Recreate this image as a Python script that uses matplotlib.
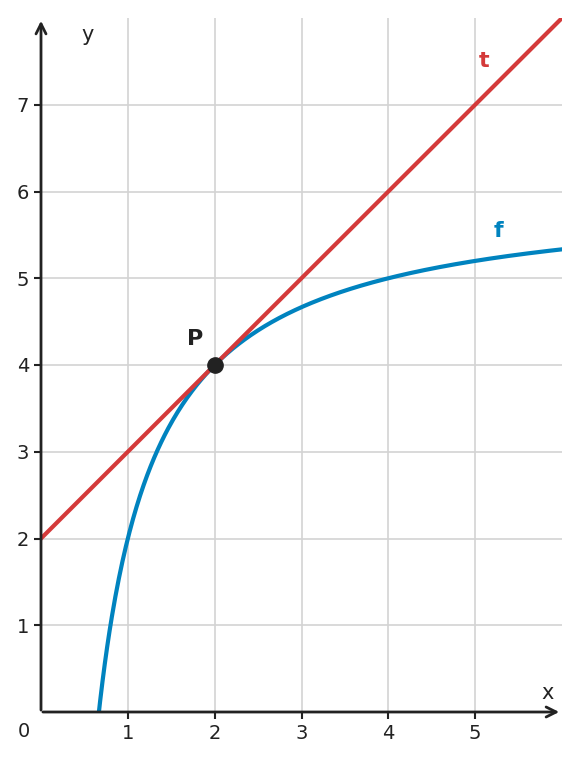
import numpy as np
import matplotlib.pyplot as plt

# f(x) = a - b/x, tangent t at P
f_a, f_b = 6, 4
t_slope, t_icept = 1, 2
p_x, p_y = 2, 4
xticks = [1, 2, 3, 4, 5]
yticks = [1, 2, 3, 4, 5, 6, 7]

fig = plt.figure(figsize=(5.8, 7.61), dpi=100)
ax = fig.add_axes([41/580, 49/761, 521/580, 694/761])
ax.set_xlim(0, 6)
ax.set_ylim(0, 8)

for v in xticks:
    ax.axvline(v, color='#d3d3d3', lw=1.2, zorder=0)
for v in yticks:
    ax.axhline(v, color='#d3d3d3', lw=1.2, zorder=0)

xs = np.linspace(0.6, 6, 400)
ax.plot(xs, f_a - f_b / xs, color='#0083bf', lw=3, clip_on=True)
xt = np.array([0, 6])
ax.plot(xt, t_slope * xt + t_icept, color='#d43a3a', lw=3)
ax.plot(p_x, p_y, 'o', color='#222222', ms=11, zorder=5)

ax.text(5.1, 7.5, 't', color='#d43a3a', fontsize=16, fontweight='bold', ha='center', va='center')
ax.text(5.27, 5.55, 'f', color='#0083bf', fontsize=16, fontweight='bold', ha='center', va='center')
ax.text(1.78, 4.3, 'P', color='#222222', fontsize=16, fontweight='bold', ha='center', va='center')

for s in ax.spines.values():
    s.set_visible(False)
ax.set_xticks(xticks)
ax.set_yticks(yticks)
ax.tick_params(colors='#222222', labelsize=14, length=5, width=1.5, direction='out')
ax.annotate('', xy=(6.0, 0), xytext=(-0.01, 0), xycoords='data', annotation_clip=False,
            arrowprops=dict(arrowstyle='->', color='#222222', lw=2, mutation_scale=18))
ax.annotate('', xy=(0, 8.0), xytext=(0, -0.01), xycoords='data', annotation_clip=False,
            arrowprops=dict(arrowstyle='->', color='#222222', lw=2, mutation_scale=18))
ax.text(-0.2, -0.22, '0', fontsize=14, color='#222222', ha='center', va='center')
ax.text(5.83, 0.22, 'x', fontsize=15, color='#222222', ha='center', va='center')
ax.text(0.54, 7.8, 'y', fontsize=15, color='#222222', ha='center', va='center')

fig.savefig('out.png', dpi=100)
